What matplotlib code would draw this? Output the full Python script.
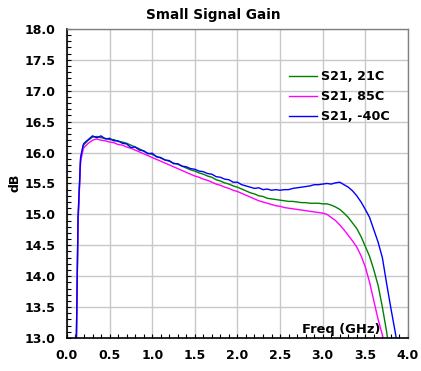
import numpy as np
import matplotlib
matplotlib.use("Agg")
import matplotlib.pyplot as plt
from matplotlib.ticker import MultipleLocator

plt.rcParams['font.family'] = ['DejaVu Sans']
plt.rcParams['font.weight'] = 'bold'

# Frequency grid (GHz), shared by the three traces
freq = [0.11, 0.13, 0.16, 0.19,
        0.20, 0.25, 0.30, 0.35, 0.40, 0.45, 0.50, 0.55, 0.60, 0.65,
        0.70, 0.75, 0.80, 0.85, 0.90, 0.95, 1.00, 1.05, 1.10, 1.15,
        1.20, 1.25, 1.30, 1.35, 1.40, 1.45, 1.50, 1.55, 1.60, 1.65,
        1.70, 1.75, 1.80, 1.85, 1.90, 1.95, 2.00, 2.05, 2.10, 2.15,
        2.20, 2.25, 2.30, 2.35, 2.40, 2.45, 2.50, 2.55, 2.60, 2.65,
        2.70, 2.75, 2.80, 2.85, 2.90, 2.95, 3.00, 3.05, 3.10, 3.15,
        3.20, 3.25, 3.30, 3.35, 3.40, 3.45, 3.50, 3.55, 3.60, 3.65,
        3.70, 3.75, 3.80, 3.85, 3.90]

# S21 at 21C
s21_21c = [12.9, 14.90, 15.90, 16.10,
           16.13, 16.20, 16.25, 16.26, 16.24, 16.23, 16.21, 16.21, 16.18, 16.17,
           16.15, 16.12, 16.09, 16.06, 16.02, 15.99, 15.97, 15.94, 15.91, 15.88,
           15.86, 15.83, 15.81, 15.78, 15.75, 15.72, 15.70, 15.67, 15.65, 15.62,
           15.60, 15.56, 15.54, 15.51, 15.49, 15.46, 15.44, 15.41, 15.38, 15.35,
           15.33, 15.30, 15.29, 15.26, 15.25, 15.24, 15.23, 15.22, 15.21, 15.21,
           15.20, 15.19, 15.19, 15.18, 15.18, 15.18, 15.17, 15.17, 15.15, 15.12,
           15.08, 15.02, 14.95, 14.86, 14.77, 14.64, 14.48, 14.32, 14.10, 13.85,
           13.50, 13.10, 12.60, 12.20, 12.00]

# S21 at 85C
s21_85c = [12.9, 14.85, 15.85, 16.05,
           16.08, 16.15, 16.20, 16.22, 16.20, 16.19, 16.17, 16.16, 16.13, 16.12,
           16.09, 16.07, 16.04, 16.01, 15.98, 15.95, 15.92, 15.89, 15.86, 15.83,
           15.80, 15.77, 15.74, 15.71, 15.68, 15.65, 15.62, 15.60, 15.57, 15.55,
           15.52, 15.49, 15.47, 15.44, 15.42, 15.39, 15.37, 15.34, 15.31, 15.28,
           15.25, 15.22, 15.20, 15.18, 15.16, 15.14, 15.13, 15.11, 15.10, 15.09,
           15.08, 15.07, 15.06, 15.05, 15.04, 15.03, 15.02, 15.00, 14.95, 14.90,
           14.83, 14.75, 14.66, 14.57, 14.47, 14.33, 14.15, 13.90, 13.60, 13.30,
           13.05, 12.70, 12.40, 12.10, 11.90]

# S21 at -40C
s21_m40c = [12.9, 14.95, 15.92, 16.12,
            16.15, 16.21, 16.27, 16.24, 16.27, 16.22, 16.23, 16.19, 16.19, 16.15,
            16.14, 16.08, 16.09, 16.04, 16.03, 15.98, 15.99, 15.93, 15.92, 15.88,
            15.87, 15.82, 15.82, 15.78, 15.77, 15.74, 15.73, 15.70, 15.69, 15.66,
            15.65, 15.61, 15.60, 15.57, 15.56, 15.52, 15.52, 15.48, 15.46, 15.44,
            15.42, 15.43, 15.40, 15.41, 15.39, 15.40, 15.39, 15.40, 15.40, 15.42,
            15.43, 15.44, 15.45, 15.46, 15.48, 15.48, 15.49, 15.50, 15.49, 15.51,
            15.52, 15.48, 15.44, 15.38, 15.30, 15.20, 15.08, 14.95, 14.75, 14.55,
            14.30, 13.88, 13.48, 13.10, 12.70]

fig = plt.figure(figsize=(4.21, 3.71), dpi=100)
ax = fig.add_axes([0.159, 0.089, 0.810, 0.833])

ax.plot(freq, s21_21c, color='#008000', lw=1.0, label='S21, 21C')
ax.plot(freq, s21_85c, color='#FF00FF', lw=1.0, label='S21, 85C')
ax.plot(freq, s21_m40c, color='#0000FF', lw=1.0, label='S21, -40C')

ax.set_xlim(0, 4)
ax.set_ylim(13, 18)
ax.xaxis.set_major_locator(MultipleLocator(0.5))
ax.xaxis.set_minor_locator(MultipleLocator(0.1))
ax.yaxis.set_major_locator(MultipleLocator(0.5))
ax.yaxis.set_minor_locator(MultipleLocator(0.1))
ax.xaxis.set_major_formatter(plt.FormatStrFormatter('%.1f'))
ax.yaxis.set_major_formatter(plt.FormatStrFormatter('%.1f'))
ax.tick_params(which='both', direction='in', length=3, width=0.8,
               top=False, right=False, labelsize=9)
ax.tick_params(axis='x', pad=8)
ax.tick_params(axis='y', pad=8)
for lab in ax.get_xticklabels() + ax.get_yticklabels():
    lab.set_fontweight('bold')

ax.grid(True, which='major', color='#c8c8c8', lw=1)
ax.set_axisbelow(True)
for side in ['left', 'bottom']:
    ax.spines[side].set_color('black')
    ax.spines[side].set_linewidth(1.2)
for side in ['top', 'right']:
    ax.spines[side].set_color('#808080')
    ax.spines[side].set_linewidth(1)

ax.legend(loc='upper left', bbox_to_anchor=(289 / 421, 1 - 70 / 371),
          bbox_transform=fig.transFigure, frameon=False,
          handlelength=2.2, handletextpad=0.3, labelspacing=0.55,
          borderpad=0, borderaxespad=0, prop={'weight': 'bold', 'size': 9.2})

fig.text(213 / 421, 1 - 15 / 371, 'Small Signal Gain', ha='center', va='center',
         fontsize=9.8, fontweight='bold')
fig.text(15 / 421, 1 - 183 / 371, 'dB', ha='center', va='center',
         rotation=90, fontsize=9, fontweight='bold')
fig.text(341 / 421, 1 - 330 / 371, 'Freq (GHz)', ha='center', va='center',
         fontsize=9.4, fontweight='bold')

fig.savefig('out.png', dpi=100)
